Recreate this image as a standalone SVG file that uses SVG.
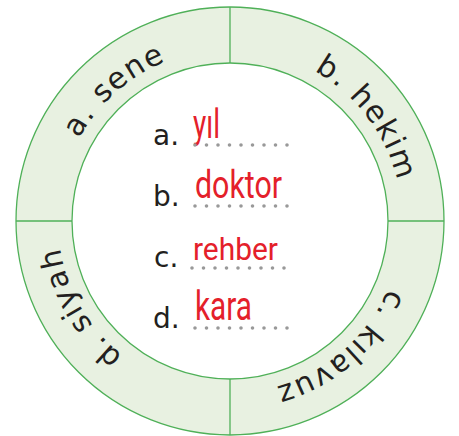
<svg xmlns="http://www.w3.org/2000/svg" width="459" height="436" viewBox="0 0 459 436">
<defs>
<style>
.ring{fill:#e8f1e1;stroke:#4fb058;stroke-width:1.3;fill-rule:evenodd}
.div{stroke:#4fb058;stroke-width:1.3}
.rt{font-family:"DejaVu Sans",sans-serif;font-size:30px;fill:#231f20;letter-spacing:1.5px}
.lb{font-family:"DejaVu Sans",sans-serif;font-size:28px;fill:#231f20}
.ans{font-family:Roboto,"Liberation Sans",sans-serif;fill:#e4202a}
.dots{stroke:#999;stroke-width:3.6;stroke-linecap:round;stroke-dasharray:0 11.5;fill:none}
</style>
<path id="pa" d="M70,284 A172,172 0 0 1 312.1,69.8"/>
<path id="pb" d="M179.7,56.5 A172,172 0 0 1 374.3,314.7"/>
<path id="pc" d="M390.6,159.4 A172,172 0 0 1 146.6,371.4"/>
<path id="pd" d="M259.9,390.4 A172,172 0 0 1 98.2,110.4"/>
</defs>
<g id="ring">
<path class="ring" d="M16,221 A214,214 0 1 0 444,221 A214,214 0 1 0 16,221 Z M72,221 A158,158 0 1 0 388,221 A158,158 0 1 0 72,221 Z"/>
<line class="div" x1="230" y1="7" x2="230" y2="63"/>
<line class="div" x1="230" y1="379" x2="230" y2="435"/>
<line class="div" x1="16" y1="221" x2="72" y2="221"/>
<line class="div" x1="388" y1="221" x2="444" y2="221"/>
</g>
<g id="seg-a"><text class="rt"><textPath href="#pa" startOffset="50%" text-anchor="middle">a. sene</textPath></text></g>
<g id="seg-b"><text class="rt"><textPath href="#pb" startOffset="50%" text-anchor="middle">b. hekim</textPath></text></g>
<g id="seg-c"><text class="rt"><textPath href="#pc" startOffset="50%" text-anchor="middle">c. kılavuz</textPath></text></g>
<g id="seg-d"><text class="rt"><textPath href="#pd" startOffset="50%" text-anchor="middle">d. siyah</textPath></text></g>
<g id="row-a">
<text class="lb" x="153" y="145">a.</text>
<text class="ans" x="193" y="138" font-size="40" textLength="27" lengthAdjust="spacingAndGlyphs">yıl</text>
<line class="dots" x1="195" y1="145" x2="288" y2="145"/>
</g>
<g id="row-b">
<text class="lb" x="153" y="206">b.</text>
<text class="ans" x="195" y="198" font-size="39" textLength="87" lengthAdjust="spacingAndGlyphs">doktor</text>
<line class="dots" x1="195" y1="206" x2="288" y2="206"/>
</g>
<g id="row-c">
<text class="lb" x="154" y="267">c.</text>
<text class="ans" x="193" y="260" font-size="31" textLength="85" lengthAdjust="spacingAndGlyphs">rehber</text>
<line class="dots" x1="192" y1="268" x2="285" y2="268"/>
</g>
<g id="row-d">
<text class="lb" x="153" y="328">d.</text>
<text class="ans" x="195" y="320" font-size="41" textLength="57" lengthAdjust="spacingAndGlyphs">kara</text>
<line class="dots" x1="195" y1="328" x2="288" y2="328"/>
</g>
</svg>
